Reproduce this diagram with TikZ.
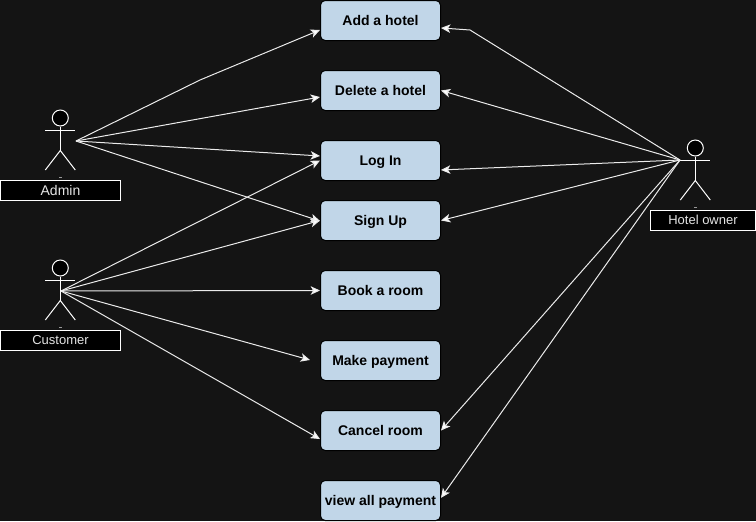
\documentclass[tikz,border=0pt]{standalone}
\usepackage{fontspec}
\setmainfont{Liberation Sans}
\usetikzlibrary{arrows.meta}
\definecolor{bgc}{HTML}{141414}
\definecolor{boxc}{HTML}{C1D6E8}
\tikzset{
  x=0.75pt,y=-0.75pt,
  usecase/.style={draw=black,line width=0.75pt,fill=boxc,rounded corners=3.5pt,minimum width=90pt,minimum height=30pt,inner sep=0pt,text=black,text height=8pt,text depth=0.8pt,font=\fontsize{10.5pt}{12pt}\selectfont\bfseries},
  actorlabel/.style={draw=white,line width=0.75pt,fill=black,text=white!90!black,minimum height=15pt,inner sep=0pt,text height=7pt,text depth=1.4pt,font=\fontsize{9.75pt}{11pt}\selectfont},
  link/.style={draw=white!92!black,line width=0.75pt,-{Stealth[length=7pt,width=6.4pt,inset=1.8pt,fill=white]}},
  figure line/.style={draw=white,line width=0.75pt},
  pics/actor/.style={code={
    \node[circle,draw=white,line width=0.75pt,fill=black,minimum size=12pt,inner sep=0pt] (-head) at (0,0) {};
    \draw[figure line] (-head.south) -- (0,32.5);
    \draw[figure line] (-15,12.3) -- (15,12.3);
    \draw[figure line] (-15,52) -- (0,32.5) -- (15,52);
    \draw[draw=white!60!black,line width=0.5pt] (-1.3,59.5) -- (1.3,59.5);
  }}
}
\begin{document}
\begin{tikzpicture}
\useasboundingbox[fill=bgc] (0,0) rectangle (756,521);
% use cases
\node[usecase] (add)    at (380.5,20.5)  {Add a hotel};
\node[usecase] (del)    at (380.5,90.5)  {Delete a hotel};
\node[usecase] (login)  at (380.5,160.5) {Log In};
\node[usecase] (signup) at (380.5,220.5) {Sign Up};
\node[usecase] (book)   at (380.5,290.5) {Book a room};
\node[usecase] (pay)    at (380.5,360.5) {Make payment};
\node[usecase] (cancel) at (380.5,430.5) {Cancel room};
\node[usecase] (viewp)  at (380.5,500.5) {view all payment};
% actors
\pic (admin) at (60.3,118) {actor};
\pic (cust)  at (60.3,268) {actor};
\pic (owner) at (695.3,148) {actor};
\node[actorlabel,minimum width=90pt,text height=8pt,text depth=1.2pt,font=\fontsize{10.5pt}{12pt}\selectfont] (adminl) at (60.5,190.5) {Admin};
\node[actorlabel,minimum width=90pt]   (custl)  at (60.5,340.5)  {Customer};
\node[actorlabel,minimum width=78.75pt] (ownerl) at (703,220.3) {Hotel owner};
% free ends
\coordinate (aport) at (76,141);
\coordinate (cport) at (61,291);
\coordinate (oport) at (680,160);
\coordinate (bend1) at (200,80);
\coordinate (bend2) at (470,30);
\coordinate (payend) at (310,360);
% admin
\draw[link] (aport) -- (bend1) -- ([yshift=-7.1pt]add.west);
\draw[link] (aport) -- ([yshift=-4.9pt]del.west);
\draw[link] (aport) -- ([yshift=3.4pt]login.west);
\draw[link] (aport) -- ([yshift=-0.4pt]signup.west);
% customer
\draw[link] (cport) -- (login.west);
\draw[link] (cport) -- (signup.west);
\draw[link] (cport) -- (book.west);
\draw[link] (cport) -- (payend);
\draw[link] (cport) -- ([yshift=-6.4pt]cancel.west);
% owner
\draw[link] (oport) -- (bend2) -- ([yshift=-5.6pt]add.east);
\draw[link] (oport) -- (del.east);
\draw[link] (oport) -- ([yshift=-7.1pt]login.east);
\draw[link] (oport) -- (signup.east);
\draw[link] (oport) -- (cancel.east);
\draw[link] (oport) -- ([yshift=2pt]viewp.east);
\end{tikzpicture}
\end{document}
